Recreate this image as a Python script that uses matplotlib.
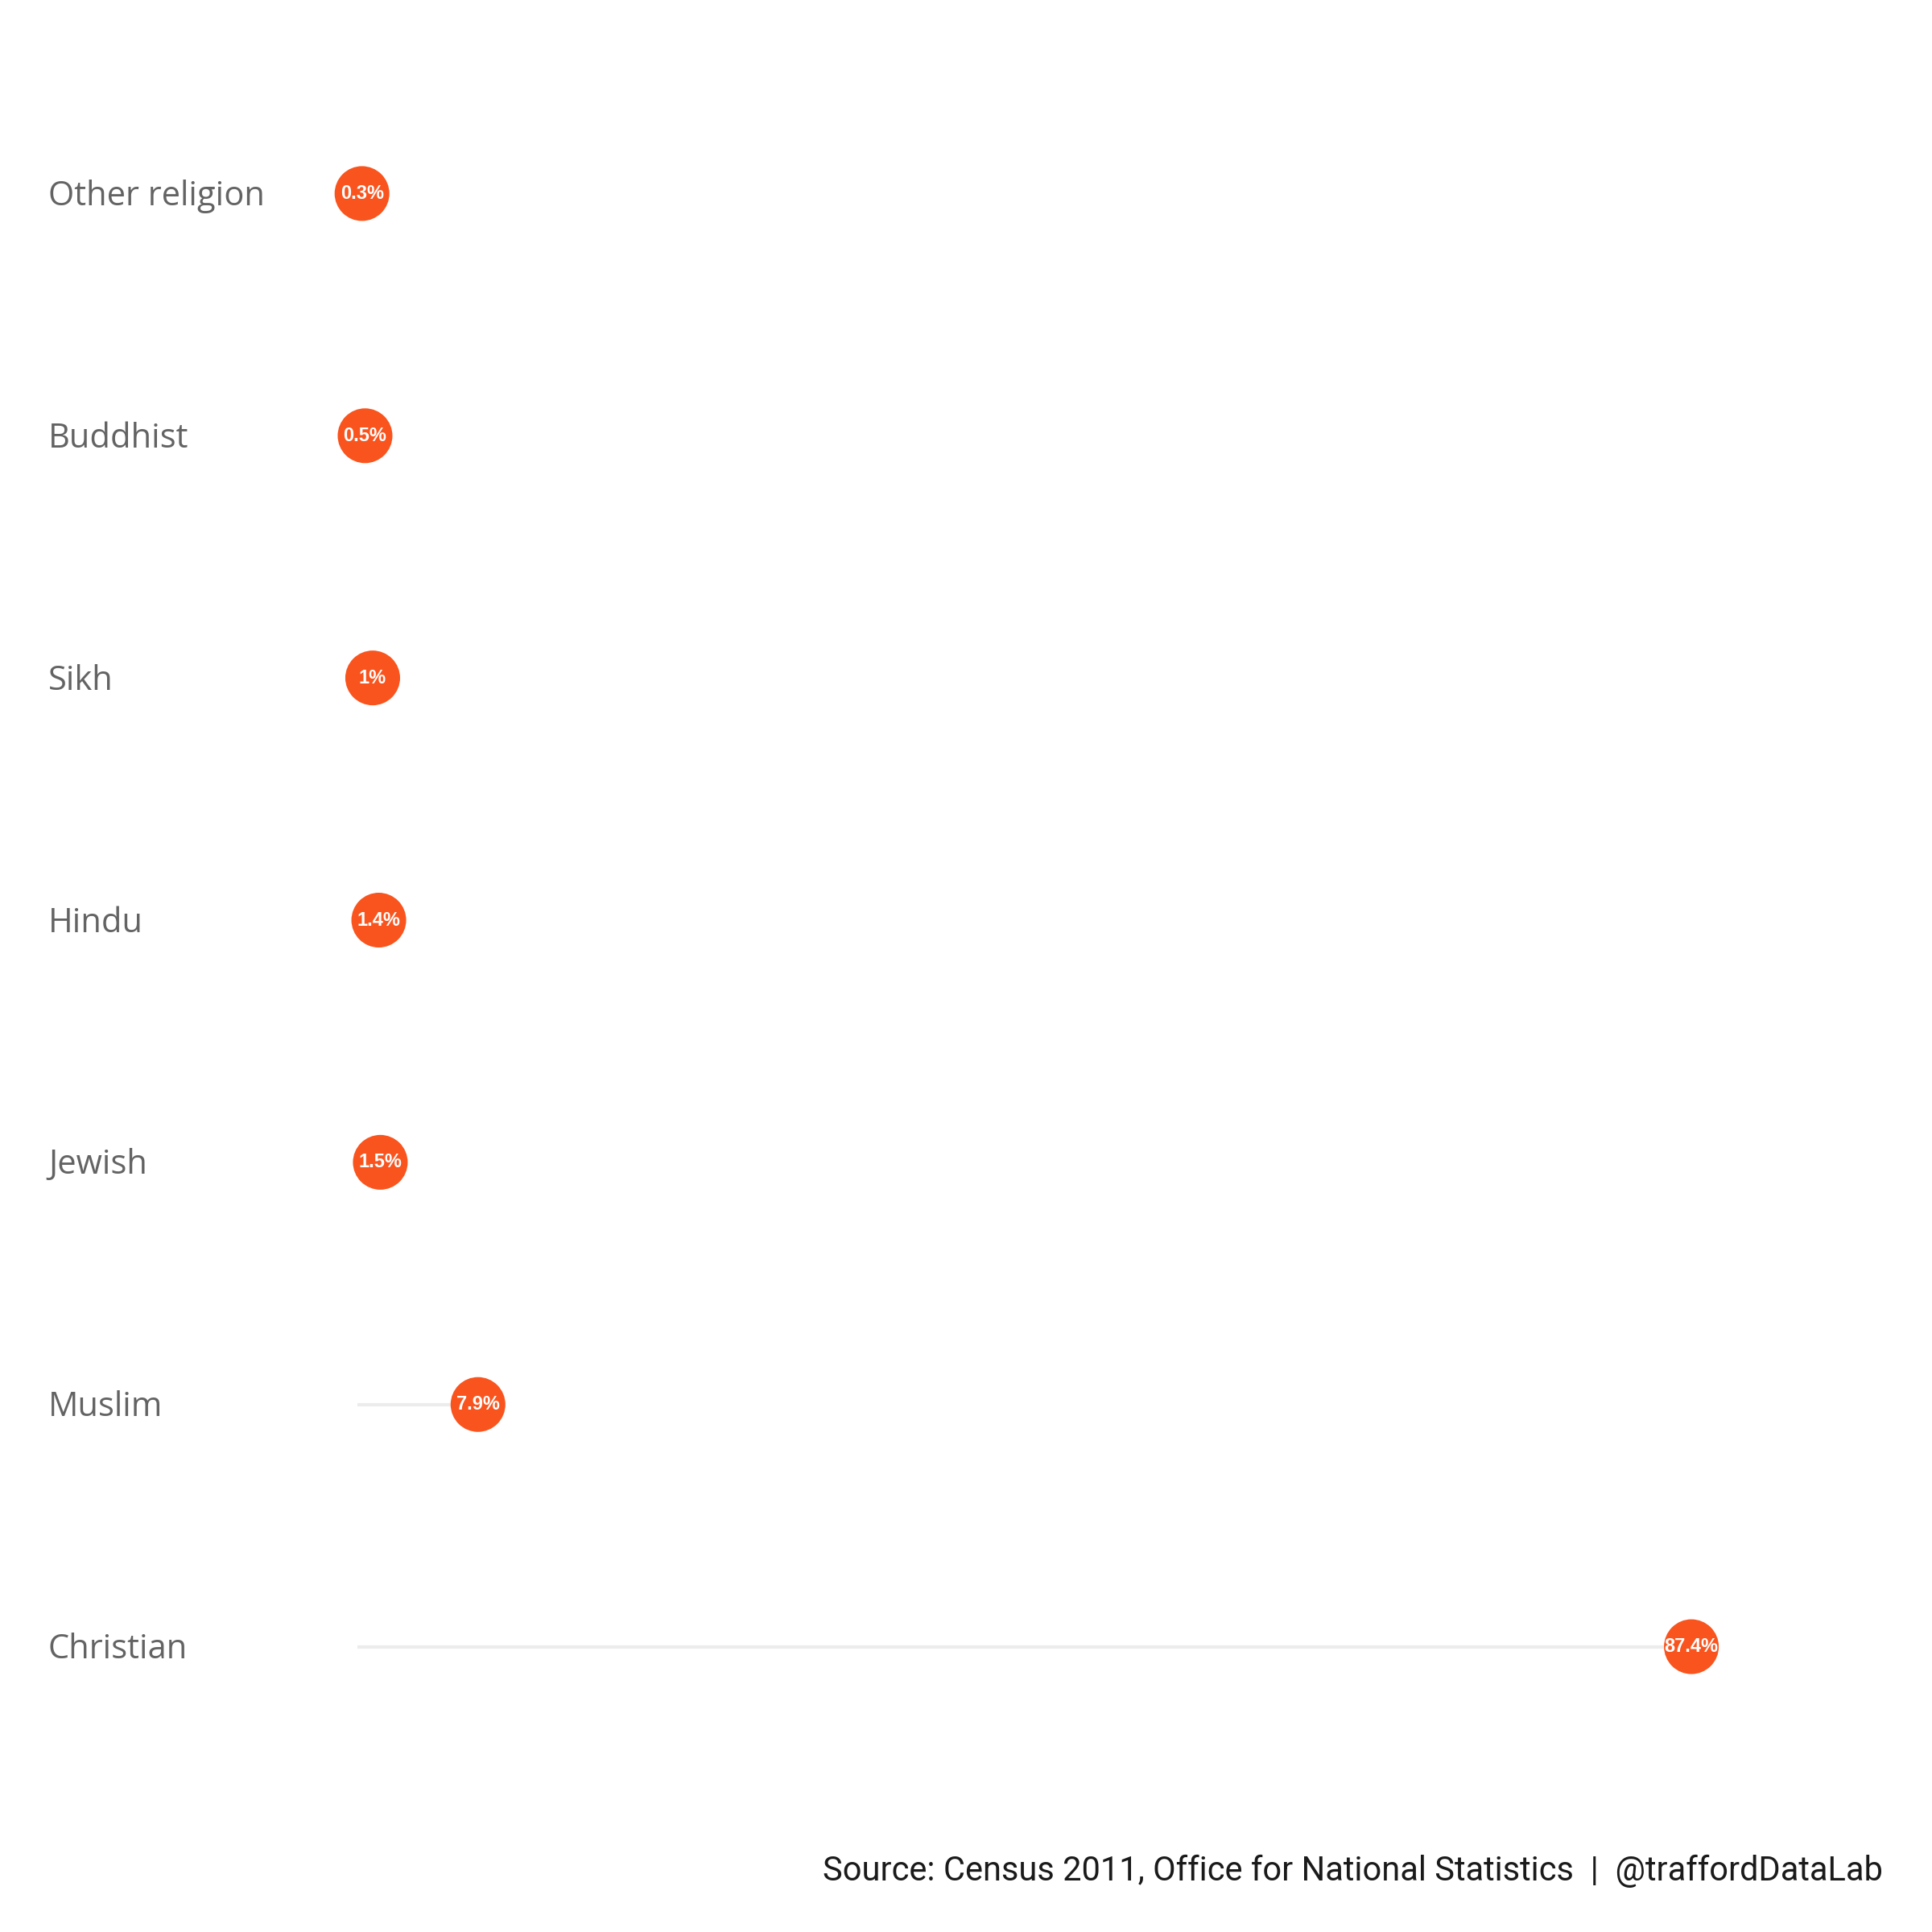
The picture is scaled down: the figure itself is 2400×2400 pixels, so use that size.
import matplotlib
matplotlib.use("Agg")
import matplotlib.pyplot as plt
import matplotlib.transforms as mtransforms

# Religion in Trafford, Census 2011 (share of residents with a religion)
religions = ["Christian", "Muslim", "Jewish", "Hindu", "Sikh", "Buddhist", "Other religion"]
percent = [87.4, 7.9, 1.5, 1.4, 1.0, 0.5, 0.3]
labels = ["87.4%", "7.9%", "1.5%", "1.4%", "1%", "0.5%", "0.3%"]

dot_col = "#f9541e"
fig = plt.figure(figsize=(12, 12), dpi=200)
ax = fig.add_axes([0.185, 0.085, 0.79, 0.8775])

ypos = list(range(len(religions)))
ax.hlines(ypos, 0, percent, color="#ececec", linewidth=1.5, zorder=1)
ax.scatter(percent, ypos, s=600, color=dot_col, edgecolors="none", zorder=2, clip_on=False)

for x, y, lab in zip(percent, ypos, labels):
    ax.text(x, y, lab, ha="center", va="center", color="white", clip_on=False,
            fontsize=8.5, fontweight="bold", family="Liberation Sans", zorder=3)

# category labels, left aligned near the figure edge
trans = mtransforms.blended_transform_factory(fig.transFigure, ax.transData)
for y, name in zip(ypos, religions):
    ax.text(0.025, y - 0.012, name, transform=trans, ha="left", va="center",
            color="#636363", fontsize=15, family="Open Sans")

ax.set_xlim(0, 100)
ax.set_ylim(-0.5, 6.5)
ax.axis("off")

fig.text(0.9746, 0.0315, "Source: Census 2011, Office for National Statistics  |  @traffordDataLab",
         ha="right", va="center", fontsize=15, family="Roboto", color="#1a1a1a")

fig.savefig("out.png", dpi=200, facecolor="white")
